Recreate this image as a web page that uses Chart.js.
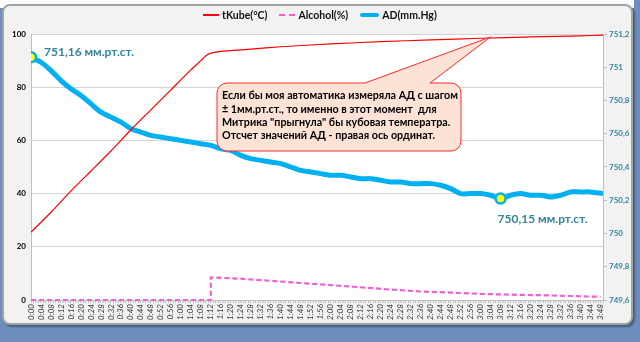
<!DOCTYPE html>
<html>
<head>
<meta charset="utf-8">
<script src="https://cdn.jsdelivr.net/npm/chart.js@4.4.1/dist/chart.umd.min.js"></script>
<style>
  body { margin: 0; width: 640px; height: 342px; background: #6d8dbe; overflow: hidden; position: relative; }
  .tira { position: absolute; left: 0; top: 0; width: 634px; height: 8px; background: #fbfbfb; }
  .panel { position: absolute; left: 2px; top: 4px; width: 627px; height: 317px; background: #f2f2f2;
           border: 2px solid #a3a3a3; border-radius: 8px; box-shadow: 2px 2px 2px rgba(0,0,0,.35); }
  #myChart { position: absolute; left: 0; top: 0; }
  .leyenda { position: absolute; top: 9px; left: 203px; display: flex; align-items: center;
             font: bold 10.5px Lato, sans-serif; color: #111; white-space: nowrap; }
  .leyenda span.l { display: inline-block; width: 16px; margin-right: 3px; }
  .leyenda .item { display: flex; align-items: center; margin-right: 12px; }
</style>
</head>
<body>
<div class="tira"></div>
<div class="panel"></div>
<canvas id="myChart" width="640" height="342"></canvas>
<div class="leyenda">
  <div class="item"><span class="l" style="height:1.5px;background:#ff0000"></span>tKube(°C)</div>
  <div class="item"><span class="l" style="border-top:2.5px dashed #f25fd0"></span>Alcohol(%)</div>
  <div class="item"><span class="l" style="width:19px;height:4px;background:#00b0f0;border-radius:2px"></span>AD(mm.Hg)</div>
</div>
<script>
// minutos desde el inicio
const tempMin = [0, 8, 16, 24, 32, 40, 48, 56, 64, 68, 70, 72, 76, 88, 100, 120, 140, 160, 180, 200, 220, 229];
const tempVal = [25.5, 33, 41, 48.5, 56, 64, 71.5, 79, 86.5, 90, 91.8, 92.8, 93.5, 94.3, 95.2, 96.3, 97.1, 97.8, 98.4, 98.9, 99.3, 99.6];

const alcMin = [0, 72, 72, 84, 96, 108, 120, 132, 144, 156, 168, 180, 192, 204, 216, 228];
const alcVal = [0, 0, 8.5, 8.0, 7.2, 6.4, 5.6, 4.8, 3.9, 3.2, 2.8, 2.3, 2.0, 1.8, 1.5, 1.2];

const adMin = [0, 4, 8, 12, 16, 20, 24, 28, 32, 36, 40, 44, 48, 52, 56, 60, 64, 68, 72, 76, 80, 84, 88, 92, 96,
  100, 104, 108, 112, 116, 120, 124, 128, 132, 136, 140, 144, 148, 152, 156, 160, 164, 168, 172, 176, 180,
  184, 188, 192, 196, 200, 204, 208, 212, 216, 220, 224, 229];
const adVal = [751.06, 751.03, 750.98, 750.92, 750.87, 750.83, 750.78, 750.73, 750.70, 750.67, 750.63, 750.61,
  750.59, 750.58, 750.57, 750.56, 750.55, 750.54, 750.53, 750.51, 750.50, 750.47, 750.45, 750.44, 750.43,
  750.42, 750.40, 750.38, 750.37, 750.36, 750.35, 750.35, 750.34, 750.33, 750.33, 750.32, 750.31, 750.31,
  750.30, 750.30, 750.30, 750.29, 750.27, 750.24, 750.24, 750.24, 750.23, 750.21, 750.23, 750.24, 750.23,
  750.23, 750.22, 750.23, 750.25, 750.25, 750.25, 750.24];

const notaLineas = [
  "Если бы моя автоматика измеряла АД с шагом",
  "± 1мм.рт.ст., то именно в этот момент  для",
  "Митрика \"прыгнула\" бы кубовая температра.",
  "Отсчет значений АД - правая ось ординат."
];
const etiquetaMax = "751,16 мм.рт.ст.";
const etiquetaMin = "750,15 мм.рт.ст.";

const minIdx = adVal.indexOf(Math.min(...adVal));
const hhmm = (v) => Math.floor(v / 60) + ":" + String(v % 60).padStart(2, "0");
const puntos = (xs, ys) => xs.map((x, i) => ({ x: x, y: ys[i] }));

const fondo = {
  id: "fondo",
  beforeDraw(chart) {
    const { ctx, chartArea: a } = chart;
    ctx.save();
    ctx.fillStyle = "#ffffff";
    ctx.fillRect(a.left, a.top, a.right - a.left, a.bottom - a.top);
    ctx.restore();
  }
};

const notas = {
  id: "notas",
  afterDatasetsDraw(chart) {
    const ctx = chart.ctx;
    const x = chart.scales.x, y = chart.scales.y, y2 = chart.scales.y2;

    // globo con el texto
    const L = 217, T = 83, R = 461, B = 151, r = 10;
    const tipX = x.getPixelForValue(184), tipY = y.getPixelForValue(98.9);
    ctx.save();
    ctx.beginPath();
    ctx.moveTo(L + r, T);
    ctx.lineTo(365, T);
    ctx.lineTo(tipX, tipY);
    ctx.lineTo(430, T);
    ctx.lineTo(R - r, T);
    ctx.arcTo(R, T, R, T + r, r);
    ctx.lineTo(R, B - r);
    ctx.arcTo(R, B, R - r, B, r);
    ctx.lineTo(L + r, B);
    ctx.arcTo(L, B, L, B - r, r);
    ctx.lineTo(L, T + r);
    ctx.arcTo(L, T, L + r, T, r);
    ctx.closePath();
    ctx.fillStyle = "#fde2d6";
    ctx.fill();
    ctx.strokeStyle = "#ff2a2a";
    ctx.lineWidth = 1;
    ctx.stroke();

    ctx.fillStyle = "#000";
    ctx.textBaseline = "middle";
    ctx.font = "bold 11.5px Lato, sans-serif";
    const w = ctx.measureText(notaLineas[0]).width;
    const k = 236 / w;
    ctx.font = "bold " + (11.5 * k).toFixed(2) + "px Lato, sans-serif";
    notaLineas.forEach((t, i) => ctx.fillText(t, 222, 96 + i * 13.2));

    // etiquetas de AD
    ctx.fillStyle = "#31859c";
    ctx.font = "bold 12px Lato, sans-serif";
    ctx.textBaseline = "middle";
    ctx.fillText(etiquetaMax, x.getPixelForValue(adMin[0]) + 13, y2.getPixelForValue(adVal[0]) - 5);
    ctx.fillText(etiquetaMin, x.getPixelForValue(adMin[minIdx]) - 3, y2.getPixelForValue(adVal[minIdx]) + 21);
    ctx.restore();
  }
};

const config = {
  type: "line",
  data: {
    datasets: [
      { label: "tKube(°C)", data: puntos(tempMin, tempVal), borderColor: "#ff0000", borderWidth: 1.2,
        pointRadius: 0, tension: 0.2, yAxisID: "y" },
      { label: "Alcohol(%)", data: puntos(alcMin, alcVal), borderColor: "#f25fd0", borderWidth: 2.2,
        borderDash: [5, 3], pointRadius: 0, tension: 0, yAxisID: "y", clip: 4 },
      { label: "AD(mm.Hg)", data: puntos(adMin, adVal), borderColor: "#00b0f0", borderWidth: 5,
        pointRadius: (c) => (c.dataIndex === 0 || c.dataIndex === minIdx) ? 5 : 0,
        pointBackgroundColor: "#ffff00", pointBorderColor: "#00b0f0", pointBorderWidth: 2.5,
        tension: 0.3, yAxisID: "y2" }
    ]
  },
  options: {
    responsive: false,
    animation: false,
    layout: { padding: { top: 34, left: 0, right: 0, bottom: 0 } },
    plugins: { legend: { display: false }, tooltip: { enabled: false } },
    scales: {
      x: {
        type: "linear", min: 0, max: 229,
        afterFit: (s) => { s.height = 42; },
        ticks: { stepSize: 1, autoSkip: false, minRotation: 90, maxRotation: 90, padding: 1,
          callback: (v) => (v % 4 === 0 ? hhmm(v) : ""),
          font: { family: "Lato, sans-serif", size: 8, style: "italic" }, color: "#333" },
        grid: { drawOnChartArea: false, tickLength: 3, color: "#c0c0c0" },
        border: { color: "#bfbfbf" }
      },
      y: {
        position: "left", min: 0, max: 100,
        afterFit: (s) => { s.width = 31; },
        ticks: { stepSize: 20, padding: 5, font: { family: "Lato, sans-serif", size: 8, weight: "bold" }, color: "#000" },
        grid: { color: "#d4d4d4", drawTicks: false },
        border: { color: "#bfbfbf" }
      },
      y2: {
        position: "right", min: 749.6, max: 751.2,
        afterFit: (s) => { s.width = 37; },
        ticks: { stepSize: 0.2, padding: 2,
          callback: (v) => String(Number(v.toFixed(1))).replace(".", ","),
          font: { family: "Lato, sans-serif", size: 8, weight: "bold" }, color: "#31859c" },
        grid: { drawOnChartArea: false, tickLength: 4, color: "#bfbfbf" },
        border: { color: "#bfbfbf" }
      }
    }
  },
  plugins: [fondo, notas]
};

const myChart = document.getElementById("myChart");
new Chart(myChart, config);
</script>
</body>
</html>
